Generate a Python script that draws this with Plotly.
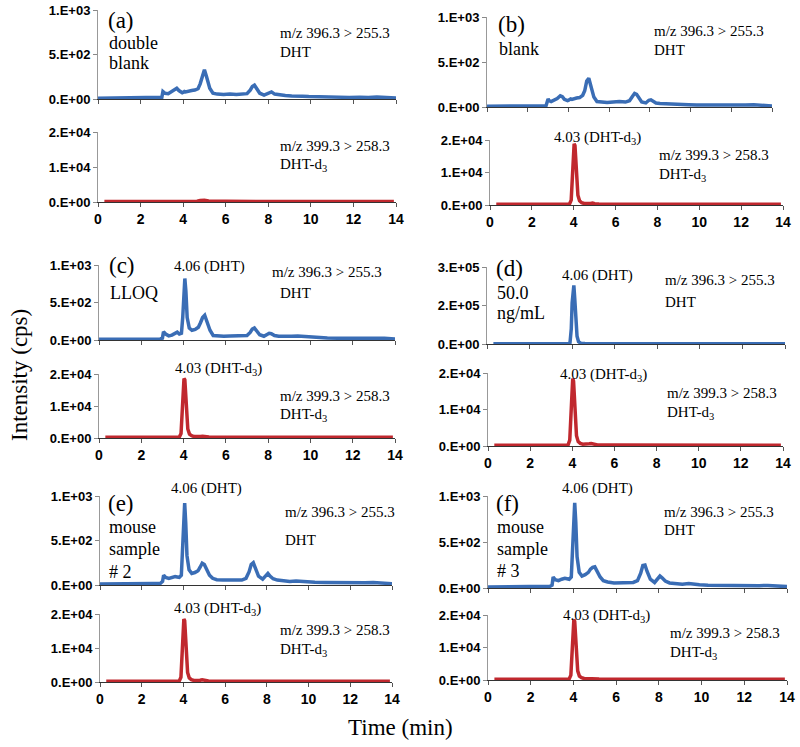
import plotly.graph_objects as go

# ---------------- data ----------------
t_dht = [0.0, 0.5, 1.0, 1.5, 2.0, 2.5, 2.9, 3.0, 3.05, 3.15, 3.3, 3.45, 3.6, 3.7, 3.8, 3.9,
         3.96, 4.01, 4.06, 4.11, 4.17, 4.27, 4.4, 4.55, 4.7, 4.8, 4.9, 5.0, 5.1, 5.25, 5.4, 5.6,
         5.9, 6.2, 6.5, 6.8, 7.0, 7.15, 7.25, 7.35, 7.45, 7.6, 7.8, 7.95, 8.05, 8.15, 8.3, 8.5,
         8.8, 9.1, 9.4, 9.6, 9.9, 10.3, 10.8, 11.3, 11.8, 12.3, 12.7, 13.1, 13.5, 14.0]

dht_a = [8, 10, 8, 12, 10, 14,
         14, 20, 85, 65, 60, 80, 110, 120, 95, 75,
         70, 75, 85, 80, 85, 90, 95, 100, 115, 170,
         270, 330, 250, 120, 65, 55, 50, 55, 50, 55,
         60, 100, 140, 155, 120, 65, 45, 60, 80, 80,
         55, 45, 40, 35, 38, 32, 28, 25, 22, 20,
         18, 20, 16, 22, 18, 12]
dht_b = [8, 8, 10, 8, 12, 12,
         15, 90, 70, 60, 75, 95, 125, 115, 85, 75,
         70, 75, 85, 90, 85, 95, 100, 105, 130, 180,
         290, 320, 230, 110, 60, 55, 50, 55, 60, 55,
         70, 120, 150, 140, 100, 55, 45, 75, 80, 65,
         45, 40, 35, 30, 30, 28, 25, 22, 20, 20,
         18, 20, 22, 25, 20, 12]
dht_c = [10, 10, 12, 10, 14, 15,
         15, 25, 110, 80, 55, 65, 90, 105, 80, 90,
         300, 700, 820, 650, 300, 160, 130, 140, 170, 230,
         300, 330, 260, 130, 60, 55, 50, 55, 60, 55,
         60, 100, 145, 160, 125, 70, 50, 70, 90, 85,
         60, 50, 45, 50, 55, 50, 40, 30, 28, 25,
         25, 30, 35, 30, 25, 15]
dht_e = [10, 10, 12, 12, 15, 18,
         20, 40, 110, 85, 75, 85, 95, 90, 85, 110,
         400, 800, 920, 700, 330, 170, 130, 140, 160, 200,
         245, 230, 180, 110, 75, 60, 55, 55, 50, 55,
         75, 150, 230, 250, 190, 100, 65, 110, 130, 100,
         70, 55, 45, 40, 45, 40, 35, 30, 28, 25,
         25, 28, 25, 28, 22, 15]
dht_f = [10, 10, 12, 12, 15, 18,
         18, 30, 120, 90, 80, 95, 105, 100, 95, 120,
         420, 820, 925, 720, 340, 170, 130, 145, 170, 205,
         225, 230, 190, 120, 80, 65, 55, 55, 55, 60,
         80, 160, 245, 250, 180, 95, 60, 100, 130, 110,
         75, 55, 48, 42, 48, 40, 35, 30, 28, 25,
         25, 28, 25, 28, 22, 15]

t_dht_d = [0.3, 1, 2, 3, 3.8, 3.9, 3.96, 4.0, 4.04, 4.08, 4.12, 4.17, 4.23, 4.3, 4.4, 4.6, 5, 6, 8, 10, 12, 14]
dht_d = [500, 600, 600, 800, 1000, 5000, 60000, 160000, 225000, 228000, 180000, 90000, 30000,
         9000, 3000, 1500, 1200, 1000, 900, 900, 800, 800]

t_is = [0.3, 1, 2, 3, 3.5, 3.8, 3.88, 3.94, 3.98, 4.02, 4.06, 4.1, 4.15, 4.2, 4.28, 4.38,
        4.5, 4.65, 4.8, 4.9, 5.0, 5.2, 6, 8, 10, 12, 13.9]
is_a = [150, 150, 150, 150, 150, 150, 150, 150, 150, 150, 150, 150, 150, 150, 150, 160,
        180, 250, 400, 520, 480, 300, 180, 150, 150, 150, 150]
is_b = [200, 200, 200, 200, 220, 300, 1500, 9000, 16500, 18800, 18300, 13000, 6500, 3000, 1300, 700,
        450, 380, 480, 600, 400, 300, 250, 200, 200, 200, 200]
is_c = [200, 200, 200, 200, 220, 300, 1400, 8500, 16500, 18600, 18200, 12500, 6000, 2800, 1200, 700,
        450, 380, 450, 550, 400, 300, 250, 200, 200, 200, 200]
is_d = [200, 200, 200, 200, 220, 300, 1600, 9500, 17000, 18500, 17800, 12000, 6000, 2800, 1200, 700,
        500, 450, 600, 650, 450, 300, 250, 200, 200, 200, 200]
is_e = [200, 200, 200, 200, 220, 300, 1400, 8500, 16500, 18500, 18000, 12500, 6200, 2800, 1200, 700,
        450, 400, 500, 650, 450, 300, 250, 200, 200, 200, 200]
is_f = [200, 200, 200, 200, 220, 300, 1500, 9000, 16800, 18600, 18000, 12500, 6200, 2800, 1200, 700,
        450, 400, 500, 550, 400, 300, 250, 200, 200, 200, 200]

x_ticks = [0, 2, 4, 6, 8, 10, 12, 14]
y_ticks_dht = [0, 500, 1000]
y_text_dht = ["0.E+00", "5.E+02", "1.E+03"]
y_ticks_dht_d = [0, 150000, 300000]
y_text_dht_d = ["0.E+00", "2.E+05", "3.E+05"]
y_ticks_is = [0, 10000, 20000]
y_text_is = ["0.E+00", "1.E+04", "2.E+04"]

# ---------------- layout helpers ----------------
W, H = 800, 747
def fx(px):
    return px / W
def fy(py):
    return 1 - py / H

BLUE = "#3a6db5"
RED = "#c0282e"
SERIF = "Liberation Serif"
SANS = "Liberation Sans"

# axis index: (x0, x1, ytop, ybottom) in page pixels
boxes = {
    1: (98, 396, 10, 99),   2: (98, 396, 132, 202),
    3: (487, 772, 17, 107), 4: (490, 783, 140, 205),
    5: (99, 395, 265, 340), 6: (99, 395, 374, 438),
    7: (487, 785, 267, 344), 8: (488, 783, 373, 446),
    9: (100, 392, 496, 585), 10: (100, 392, 614, 682),
    11: (488, 787, 496, 588), 12: (488, 787, 615, 680),
}

series = [
    (1, t_dht, dht_a, BLUE), (2, t_is, is_a, RED),
    (3, t_dht, dht_b, BLUE), (4, t_is, is_b, RED),
    (5, t_dht, dht_c, BLUE), (6, t_is, is_c, RED),
    (7, t_dht_d, dht_d, BLUE), (8, t_is, is_d, RED),
    (9, t_dht, dht_e, BLUE), (10, t_is, is_e, RED),
    (11, t_dht, dht_f, BLUE), (12, t_is, is_f, RED),
]

fig = go.Figure()
for n, xs, ys, col in series:
    sfx = "" if n == 1 else str(n)
    fig.add_trace(go.Scatter(x=xs, y=ys, mode="lines", xaxis="x" + sfx, yaxis="y" + sfx,
                             line=dict(color=col, width=3.5), showlegend=False, hoverinfo="skip"))

layout = dict(width=W, height=H, margin=dict(l=0, r=0, t=0, b=0, autoexpand=False),
              paper_bgcolor="white", plot_bgcolor="white", showlegend=False)

for n, (x0, x1, yt, yb) in boxes.items():
    sfx = "" if n == 1 else str(n)
    bottom = (n % 2 == 0)
    layout["xaxis" + sfx] = dict(
        domain=[fx(x0), fx(x1)], anchor="y" + sfx, range=[0, 14], automargin=False,
        tickvals=x_ticks, showticklabels=bottom, ticks="outside", ticklen=4,
        tickcolor="#555", showline=True, linecolor="#333", linewidth=1,
        showgrid=False, zeroline=False, ticklabeloverflow="allow",
        tickfont=dict(family=SANS, size=14, color="black", weight="bold"))
    if n == 7:
        tv, tt, rng = y_ticks_dht_d, y_text_dht_d, [0, 300000]
    elif bottom:
        tv, tt, rng = y_ticks_is, y_text_is, [0, 20000]
    else:
        tv, tt, rng = y_ticks_dht, y_text_dht, [0, 1000]
    layout["yaxis" + sfx] = dict(
        domain=[fy(yb), fy(yt)], anchor="x" + sfx, range=rng, automargin=False,
        tickvals=tv, ticktext=tt, ticks="outside", ticklen=4, tickcolor="#888",
        showline=True, linecolor="#999", linewidth=1, showgrid=False, zeroline=False,
        ticklabeloverflow="allow",
        tickfont=dict(family=SANS, size=13, color="black", weight="bold"))

ann = []
def add(text, x, y, size, anchor="left"):
    ann.append(dict(text=text, x=fx(x), y=fy(y), xref="paper", yref="paper",
                    xanchor=anchor, yanchor="middle", showarrow=False,
                    font=dict(family=SERIF, size=size, color="black")))

# panel letters
for txt, x, y in [("(a)", 106, 20), ("(b)", 496, 25), ("(c)", 107, 265),
                  ("(d)", 494, 268), ("(e)", 106, 503), ("(f)", 494, 503)]:
    add(txt, x, y, 23)
# sample descriptors
for txt, x, y in [("double", 107, 43), ("blank", 107, 63), ("blank", 497, 49),
                  ("LLOQ", 108, 293), ("50.0", 495, 293), ("ng/mL", 495, 313),
                  ("mouse", 107, 527), ("sample", 107, 549), ("# 2", 107, 572),
                  ("mouse", 495, 527), ("sample", 495, 549), ("# 3", 495, 571)]:
    add(txt, x, y, 18)
# transitions
MZ1, MZ2 = "m/z 396.3 > 255.3", "m/z 399.3 > 258.3"
D3 = "DHT-d<sub>3</sub>"
for txt, x, y in [(MZ1, 278, 33), ("DHT", 278, 52), (MZ2, 278, 146), (D3, 278, 165),
                  (MZ1, 652, 31), ("DHT", 652, 50), (MZ2, 657, 155), (D3, 657, 175),
                  (MZ1, 270, 272), ("DHT", 278, 293), (MZ2, 278, 396), (D3, 278, 415),
                  (MZ1, 663, 280), ("DHT", 663, 302), (MZ2, 665, 393), (D3, 665, 413),
                  (MZ1, 283, 512), ("DHT", 283, 540), (MZ2, 278, 630), (D3, 278, 650),
                  (MZ1, 662, 512), ("DHT", 662, 530), (MZ2, 668, 633), (D3, 668, 653)]:
    add(txt, x, y, 15)
# peak labels
P1, P2 = "4.06 (DHT)", "4.03 (DHT-d<sub>3</sub>)"
for txt, x, y in [(P2, 597, 138), (P1, 209, 266), (P2, 218, 369), (P1, 597, 275),
                  (P2, 603, 375), (P1, 207, 488), (P2, 217, 609), (P1, 597, 488),
                  (P2, 606, 616)]:
    add(txt, x, y, 15, "center")

ann.append(dict(text="Intensity (cps)", x=fx(19), y=fy(375), xref="paper", yref="paper",
                textangle=-90, showarrow=False, xanchor="center", yanchor="middle",
                font=dict(family=SERIF, size=23, color="black")))
ann.append(dict(text="Time (min)", x=fx(400), y=fy(727), xref="paper", yref="paper",
                showarrow=False, xanchor="center", yanchor="middle",
                font=dict(family=SERIF, size=23, color="black")))
layout["annotations"] = ann

fig.update_layout(**layout)
fig.write_html("out.html", config={"displayModeBar": False},
               post_script="document.body.style.margin='0px';")
